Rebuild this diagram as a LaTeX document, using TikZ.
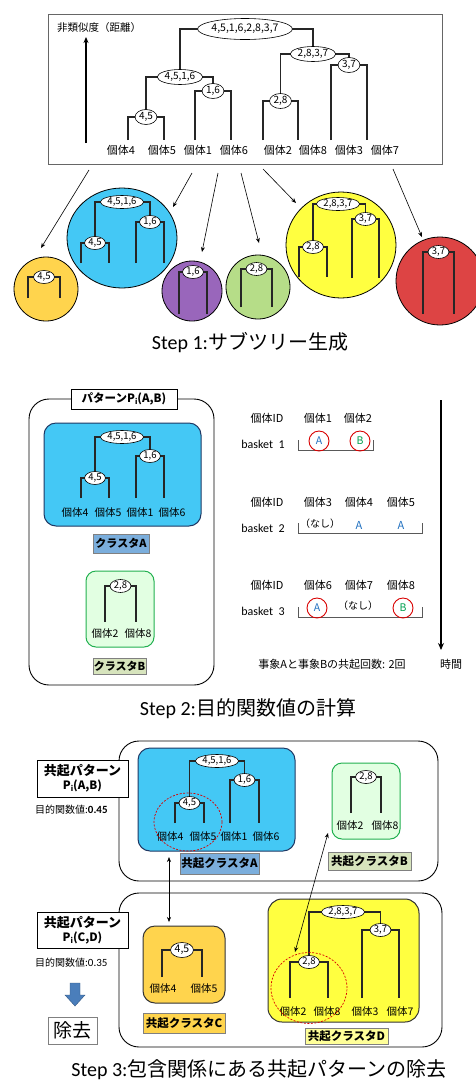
\documentclass[tikz,border=0pt]{standalone}
\usepackage{fontspec}
\setmainfont{Noto Sans CJK JP}
\newfontfamily\lat{Carlito}
\usetikzlibrary{shapes.geometric,arrows.meta}
\pgfdeclarelayer{back}
\pgfdeclarelayer{lines}
\pgfsetlayers{back,lines,main}
\definecolor{cgold}{HTML}{FFD44D}
\definecolor{cblue}{HTML}{44C8F5}
\definecolor{cpurple}{HTML}{9966BB}
\definecolor{cgreen}{HTML}{B6DD88}
\definecolor{cyel}{HTML}{FFFF40}
\definecolor{cred}{HTML}{DD4444}
\definecolor{cdarkblue}{HTML}{1F3864}
\definecolor{clabA}{HTML}{7BAEDC}
\definecolor{clabB}{HTML}{D7E4BD}
\definecolor{cpaleg}{HTML}{E2FFE2}
\definecolor{cgreenb}{HTML}{22B050}
\definecolor{clabD}{HTML}{FFFF99}
\definecolor{carrow}{HTML}{4A7EBB}
\definecolor{cA}{HTML}{2070C0}
\definecolor{cB}{HTML}{00A050}
\newcommand\fsz[1]{\fontsize{#1}{#1}\selectfont}
\newcommand\sbi[1]{\raisebox{-0.3ex}{\fsz{7.5}#1}}
\tikzset{
 tn/.style={ellipse, draw, fill=white, line width=0.6pt, inner xsep=0.8pt, inner ysep=0pt, minimum height=13pt, font=\fsz{9.5}},
 br/.style={line width=1.1pt, black!85},
 leaf/.style={inner sep=0pt, font=\fsz{10.5}},
 arr/.style={-{Stealth[length=5pt,width=4pt]}, line width=0.6pt},
 dbl/.style={{Stealth[length=5pt,width=4pt]}-{Stealth[length=5pt,width=4pt]}, line width=0.6pt},
 lab/.style={draw=gray, line width=0.6pt, font=\fsz{10.5}\bfseries},
 ttl/.style={font=\fsz{20}},
 rc/.style={circle, draw=red!85!black, line width=0.9pt, minimum size=20pt, inner sep=0pt, font=\fsz{10.5}},
 dc/.style={ellipse, draw=red!85!black, dash pattern=on 2pt off 1.5pt, line width=0.7pt, inner sep=0pt},
 bub/.style={draw, line width=0.8pt, inner sep=0pt},
}
\newcommand\tpair[7][]{%
  \node[tn,#1] (#2) at ({(#4+#5)/2},#6) {#3};
  \begin{pgfonlayer}{lines}
  \draw[br] (#4,#7) |- (#2.center) -| (#5,#7);
  \end{pgfonlayer}}
\newcommand\tjoin[7][]{%
  \node[tn,#1] (#2) at (#4,#5) {#3};
  \begin{pgfonlayer}{lines}
  \draw[br] (#6.center) |- (#2.center) -| (#7.center);
  \end{pgfonlayer}}
\newcommand\rbox[7][]{\node[inner sep=0pt, minimum width={(#5-#3)*1pt}, minimum height={(#6-#4)*1pt}, #1] (#2) at ({(#3+#5)/2},{(#4+#6)/2}) {#7};}
\begin{document}
\begin{tikzpicture}[x=1pt,y=-1pt]
\useasboundingbox (0,0) rectangle (475,1080);
\clip (0,0) rectangle (475,1080);
\begin{pgfonlayer}{back}
\fill[white] (0,0) rectangle (475,1080);
\end{pgfonlayer}

% ================= Step 1 =================
\rbox[draw=gray!80!black, line width=0.9pt]{topbox}{48}{14}{442}{164}{}
\node[font=\fsz{10.5}] (ylab) at (99,28) {非類似度（距離）};
\coordinate (ax0) at (86,143);
\coordinate (ax1) at (86,37);
\draw[line width=1.4pt, -{Stealth[length=6pt,width=5pt]}] (ax0) -- (ax1);

\tpair[minimum height=15pt, font=\fsz{10}]{t45}{4,5}{128}{164}{117}{140}
\tpair[minimum height=15pt, font=\fsz{10}]{t16}{1,6}{195}{231}{91}{140}
\tjoin[minimum height=15pt, font=\fsz{10}]{t4516}{4,5,1,6}{180}{77}{t45}{t16}
\tpair[minimum height=15pt, font=\fsz{10}]{t28}{2,8}{263}{298}{101}{140}
\tpair[minimum height=15pt, font=\fsz{10}]{t37}{3,7}{331}{367}{65}{140}
\tjoin[minimum height=15pt, font=\fsz{10}]{t2837}{2,8,3,7}{313}{54}{t28}{t37}
\tjoin[minimum width=84pt,minimum height=21pt,inner xsep=0pt,font=\fsz{10.5}]{troot}{4,5,1,6,2,8,3,7}{245}{29}{t4516}{t2837}
\foreach \n/\x in {4/121,5/162,1/198,6/234,2/278,8/313,3/349,7/385}
  \node[leaf, font=\fsz{11}] (tl\n) at (\x,150) {個体\n};

\begin{pgfonlayer}{back}
\node[bub, circle, fill=cgold, minimum size=64pt] (c1) at (46,289) {};
\node[bub, ellipse, fill=cblue, minimum width=110pt, minimum height=100pt] (c2) at (122,238) {};
\node[bub, circle, fill=cpurple, minimum size=60pt] (c3) at (192,291) {};
\node[bub, circle, fill=cgreen, minimum size=64pt] (c4) at (258,287) {};
\node[bub, ellipse, fill=cyel, minimum width=110pt, minimum height=106pt] (c5) at (341,245) {};
\node[bub, circle, fill=cred, minimum size=88pt] (c6) at (440,281) {};
\end{pgfonlayer}
\tpair{c1t}{4,5}{28}{60}{277}{298}
\tpair{c2a}{4,5}{81}{109}{243}{263}
\tpair{c2b}{1,6}{136}{164}{222}{263}
\tjoin{c2r}{4,5,1,6}{122}{202}{c2a}{c2b}
\tpair{c3t}{1,6}{179}{207}{272}{314}
\tpair{c4t}{2,8}{241}{272}{269}{307}
\tpair{c5a}{2,8}{299}{327}{247}{277}
\tpair{c5b}{3,7}{352}{379}{219}{278}
\tjoin{c5r}{2,8,3,7}{338}{204}{c5a}{c5b}
\tpair{c6t}{3,7}{423}{454}{252}{314}

\coordinate (a1s) at (89,170);  \coordinate (a1e) at (41,248);
\coordinate (a2s) at (192,173); \coordinate (a2e) at (173,207);
\coordinate (a3s) at (218,173); \coordinate (a3e) at (202,252);
\coordinate (a4s) at (241,173); \coordinate (a4e) at (259,243);
\coordinate (a5s) at (263,169); \coordinate (a5e) at (296,203);
\coordinate (a6s) at (393,169); \coordinate (a6e) at (422,237);
\foreach \i in {1,...,6} \draw[arr] (a\i s) -- (a\i e);

\node[ttl] (st1) at (250,343) {{\lat Step 1:}サブツリー生成};

% ================= Step 2 =================
\begin{pgfonlayer}{back}
\rbox[draw, line width=0.9pt, rounded corners=20pt]{p2}{29}{399}{214}{685}{}
\rbox[draw=cdarkblue, line width=1pt, fill=cblue, rounded corners=12pt]{p2a}{44}{423}{201}{526}{}
\rbox[draw=cgreenb, line width=1pt, fill=cpaleg, rounded corners=10pt]{p2b}{86}{571}{154}{647}{}
\end{pgfonlayer}
\rbox[draw, fill=white, line width=0.8pt, font=\fsz{11.5}\bfseries]{p2t}{71}{389}{177}{409}{パターンP\sbi{i}(A,B)}
\tpair{s2a}{4,5}{81}{109}{478}{498}
\tpair{s2b}{1,6}{136}{164}{456}{498}
\tjoin{s2r}{4,5,1,6}{122}{437}{s2a}{s2b}
\foreach \n/\x in {4/75,5/108,1/140,6/172}
  \node[leaf] (s2l\n) at (\x,513) {個体\n};
\rbox[lab, fill=clabA, font=\fsz{11}\bfseries]{p2al}{93}{534}{149}{553}{クラスタA}
\tpair{s2c}{2,8}{105}{136}{586}{622}
\foreach \n/\x in {2/105,8/138}
  \node[leaf] (s2m\n) at (\x,634) {個体\n};
\rbox[lab, fill=clabB, font=\fsz{11}\bfseries]{p2bl}{93}{658}{146}{674}{クラスタB}

\foreach \y [count=\i] in {418,502,585}
  \node[leaf, font=\fsz{11}] (id\i) at (267,\y) {個体ID};
\node[leaf, font=\fsz{11}] (i1) at (318,418) {個体1};
\node[leaf, font=\fsz{11}] (i2) at (358,418) {個体2};
\node[leaf, font=\fsz{11}] (i3) at (318,502) {個体3};
\node[leaf, font=\fsz{11}] (i4) at (359,502) {個体4};
\node[leaf, font=\fsz{11}] (i5) at (401,502) {個体5};
\node[leaf, font=\fsz{11}] (i6) at (318,585) {個体6};
\node[leaf, font=\fsz{11}] (i7) at (359,585) {個体7};
\node[leaf, font=\fsz{11}] (i8) at (401,585) {個体8};
\foreach \y [count=\i] in {444,528,611}
  \node[inner sep=0pt, font=\lat\fsz{12}] (bk\i) at (263,\y) {basket\ \ \i};
\draw[line width=0.8pt, black!65] (298,440) |- (373,450) -- (373,440);
\draw[line width=0.8pt, black!65] (298,523) |- (422,533) -- (422,523);
\draw[line width=0.8pt, black!65] (298,607) |- (422,617) -- (422,607);
\node[rc, text=cA] (r1a) at (319,441) {A};
\node[rc, text=cB] (r1b) at (360,441) {B};
\node[leaf, font=\fsz{10}] (n2) at (320,524) {（なし）};
\node[inner sep=0pt, text=cA, font=\fsz{11}] (r2a) at (359,525) {A};
\node[inner sep=0pt, text=cA, font=\fsz{11}] (r2b) at (401,525) {A};
\node[rc, text=cA] (r3a) at (317,608) {A};
\node[leaf, font=\fsz{10}] (n3) at (358,606) {（なし）};
\node[rc, text=cB] (r3b) at (403,608) {B};
\coordinate (ts) at (441,400);
\coordinate (te) at (441,650);
\draw[line width=1.3pt, -{Stealth[length=7pt,width=6pt]}] (ts) -- (te);
\node[font=\fsz{11}] (time) at (451,664) {時間};
\node[font=\fsz{11}] (cnt) at (332,664) {事象Aと事象Bの共起回数: 2回};

\node[ttl] (st2) at (248,709) {{\lat Step 2:}目的関数値の計算};

% ================= Step 3 =================
\begin{pgfonlayer}{back}
\rbox[draw, line width=0.9pt, rounded corners=20pt]{p3a}{119}{741}{438}{881}{}
\rbox[draw=cdarkblue, line width=1pt, fill=cblue, rounded corners=12pt]{u0}{138}{748}{295}{851}{}
\rbox[draw=cgreenb, line width=1pt, fill=cpaleg, rounded corners=10pt]{u5}{332}{763}{400}{839}{}
\rbox[draw, line width=0.9pt, rounded corners=20pt]{p3b}{119}{893}{442}{1047}{}
\rbox[draw=black!80, line width=1pt, fill=cgold, rounded corners=12pt]{w0}{143}{926}{225}{1003}{}
\rbox[draw=black!80, line width=1pt, fill=cyel, rounded corners=14pt]{w5}{268}{899}{419}{1022}{}
\end{pgfonlayer}
\rbox[draw, fill=white, line width=0.9pt, font=\fsz{13}\bfseries, align=center]{pa}{37}{760}{128}{797}{共起パターン\\[1pt]{\fsz{11.5}P\sbi{i}(A,B)}}
\node[anchor=west, inner sep=0pt, font=\fsz{10}] (ov1) at (35,810) {目的関数値:{\lat\bfseries\fsz{11}0.45}};
\tpair{u1}{4,5}{175}{204}{803}{823}
\tpair{u2}{1,6}{230}{259}{780}{823}
\tjoin{u3}{4,5,1,6}{217}{761}{u1}{u2}
\foreach \n/\x in {4/170,5/203,1/234,6/266}
  \node[leaf] (ul\n) at (\x,837) {個体\n};
\node[dc, minimum width=68pt, minimum height=58pt] (d1) at (188,822) {};
\rbox[lab, fill=clabA, font=\fsz{11.5}\bfseries]{u0l}{180}{853}{259}{874}{共起クラスタA}
\tpair{u4}{2,8}{351}{381}{777}{813}
\foreach \n/\x in {2/350,8/385}
  \node[leaf] (um\n) at (\x,826) {個体\n};
\rbox[lab, fill=clabB, font=\fsz{11.5}\bfseries]{u5l}{328}{852}{411}{870}{共起クラスタB}

\rbox[draw, fill=white, line width=0.9pt, font=\fsz{13}\bfseries, align=center]{pb}{37}{912}{128}{948}{共起パターン\\[1pt]{\fsz{11.5}P\sbi{i}(C,D)}}
\node[anchor=west, inner sep=0pt, font=\fsz{10}] (ov2) at (35,963) {目的関数値:{\lat\fsz{11}0.35}};
\filldraw[fill=carrow, draw=carrow!70!black, line width=0.4pt]
  (70,983) -- (80,983) -- (80,995) -- (85,995) -- (75,1006) -- (65,995) -- (70,995) -- cycle;
\rbox[draw=gray, line width=0.8pt, font=\fsz{19}]{rm}{48}{1017}{97}{1044}{除去}

\tpair[minimum height=15pt, font=\fsz{10.5}]{w1}{4,5}{162}{202}{950}{977}
\foreach \n/\x in {4/163,5/204}
  \node[leaf] (wl\n) at (\x,989) {個体\n};
\rbox[lab, fill=cgold, font=\fsz{11.5}\bfseries]{w0l}{143}{1013}{225}{1033}{共起クラスタC}
\tpair{w2}{2,8}{290}{328}{962}{998}
\tpair{w3}{3,7}{362}{399}{930}{998}
\tjoin{w4}{2,8,3,7}{343}{912}{w2}{w3}
\foreach \n/\x in {2/293,8/327,3/365,7/400}
  \node[leaf] (wm\n) at (\x,1012) {個体\n};
\node[dc, minimum width=76pt, minimum height=71pt] (d2) at (309,988) {};
\rbox[lab, fill=clabD, font=\fsz{11.5}\bfseries]{w5l}{305}{1028}{388}{1044}{共起クラスタD}

\coordinate (v1a) at (169,857); \coordinate (v1b) at (169,922);
\coordinate (v2a) at (328,833); \coordinate (v2b) at (295,952);
\draw[dbl] (v1a) -- (v1b);
\draw[dbl] (v2a) -- (v2b);

\node[ttl] (st3) at (259,1070) {{\lat Step 3:}包含関係にある共起パターンの除去};
\end{tikzpicture}
\end{document}
